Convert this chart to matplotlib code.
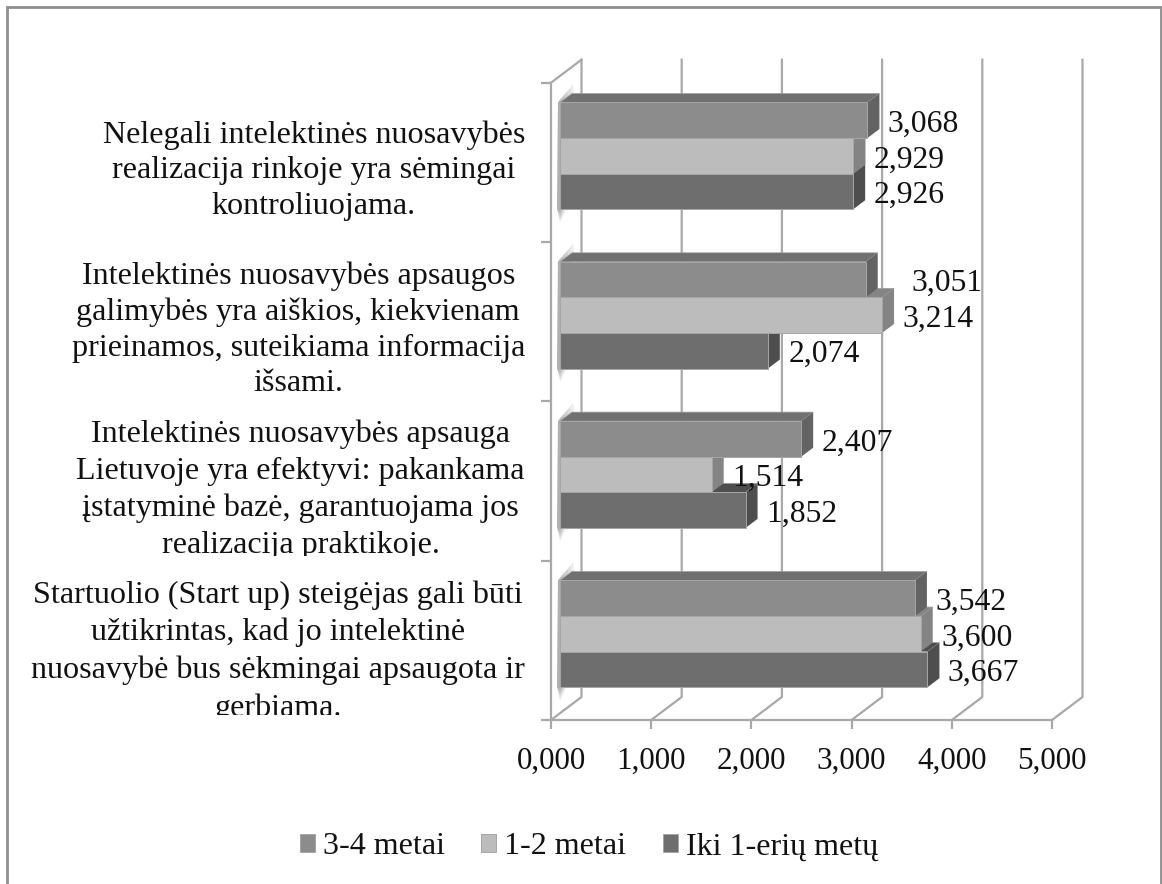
import matplotlib
matplotlib.use("Agg")
import matplotlib.pyplot as plt
from matplotlib.patches import Polygon, Rectangle
from matplotlib.transforms import Affine2D, Bbox

# ---- data (bottom to top on the axis) ----
categories = [
    "Startuolio (Start up) steigėjas gali būti\nužtikrintas, kad jo intelektinė\nnuosavybė bus sėkmingai apsaugota ir\ngerbiama.",
    "Intelektinės nuosavybės apsauga\nLietuvoje yra efektyvi: pakankama\nįstatyminė bazė, garantuojama jos\nrealizacija praktikoje.",
    "Intelektinės nuosavybės apsaugos\ngalimybės yra aiškios, kiekvienam\nprieinamos, suteikiama informacija\nišsami.",
    "Nelegali intelektinės nuosavybės\nrealizacija rinkoje yra sėmingai\nkontroliuojama.",
]
iki_1 = [3.667, 1.852, 2.074, 2.926]
metai_1_2 = [3.600, 1.514, 3.214, 2.929]
metai_3_4 = [3.542, 2.407, 3.051, 3.068]
series_names = ["Iki 1-erių metų", "1-2 metai", "3-4 metai"]
x_ticks = [0, 1, 2, 3, 4, 5]

W, H = 1162, 884
plt.rcParams["font.family"] = ["Liberation Serif", "DejaVu Serif"]
FS = 23.1
FS_VAL = 22.8
FS_TICK = 22.4
GRID = "#a8a8a8"
fig = plt.figure(figsize=(W / 100, H / 100), dpi=100, facecolor="white")

# plot frame of the picture
fig.add_artist(Rectangle((7 / W, -0.02), (1161 - 7) / W, (884 - 7) / H + 0.02,
                         transform=fig.transFigure, fill=False, ec="#8e8e8e", lw=2.0))

L, R, T, B = 551, 1052, 82.7, 720
ax = fig.add_axes([L / W, 1 - B / H, (R - L) / W, (B - T) / H])
ax.set_xlim(0, 5)
ax.set_ylim(0, 4)
sx, sy = (R - L) / 5, (B - T) / 4
ax.patch.set_visible(False)
for s in ("top", "right"):
    ax.spines[s].set_visible(False)
for s in ("left", "bottom"):
    ax.spines[s].set_color(GRID)
    ax.spines[s].set_linewidth(1.6)

ax.set_xticks(x_ticks)
ax.set_xticklabels([f"{v:.3f}".replace(".", ",") for v in x_ticks], fontsize=FS_TICK, color="#111111")
ax.set_yticks(range(5))
ax.set_yticklabels([])
ax.tick_params(axis="x", length=6.5, width=1.6, color=GRID, pad=13)
ax.tick_params(axis="y", length=7, width=1.6, color=GRID)

# walls
wdx, wdy = 30.5 / sx, 23 / sy
for k in x_ticks:
    ax.plot([k, k + wdx, k + wdx], [0, wdy, 4 + wdy], color=GRID, lw=1.6, clip_on=False, zorder=1)
ax.plot([0, wdx], [4, 4 + wdy], color=GRID, lw=1.6, clip_on=False, zorder=1)

# bars
shift = Affine2D().translate(9, 6.5)
plane = ax.transData + shift
ddx, ddy = 12 / sx, 9 / sy
h = 35.6 / sy
series = [iki_1, metai_1_2, metai_3_4]
front = ["#6e6e6e", "#bcbcbc", "#8c8c8c"]
side = ["#4e4e4e", "#848484", "#636363"]
top = ["#4e4e4e", "#848484", "#707070"]
handles = []

# soft shading on the side wall around every group
shade_steps = [(0.15, 0.115), (0.12, 0.09), (0.09, 0.07), (0.06, 0.05), (0.035, 0.03), (0.015, 0.012)]
for c in range(4):
    ylo, yhi = c + 0.5 - 1.5 * h, c + 0.5 + 1.5 * h
    for gx, gy in shade_steps:
        ax.add_patch(Polygon([(-0.02, yhi), (gx - 0.02, yhi + gy), (gx, yhi + gy * 0.2), (ddx, yhi), (0, ylo),
                              (gx * 0.4, ylo), (0.0, ylo - gy * 0.75), (-0.03, ylo)],
                             closed=True, fc="#777777", ec="none", alpha=0.13, transform=plane, zorder=2, clip_on=False))

for i, (vals, f, sd, tp) in enumerate(zip(series, front, side, top)):
    z = 3 + i
    ys = [c + 0.5 + (i - 1) * h for c in range(4)]
    for y, v in zip(ys, vals):
        y0, y1 = y - h / 2, y + h / 2
        ax.add_patch(Polygon([(0, y1), (ddx, y1 + ddy), (v + ddx, y1 + ddy), (v, y1)], closed=True,
                             fc=tp, ec="#a0a0a0", lw=0.5, transform=plane, zorder=z, clip_on=False))
        ax.add_patch(Polygon([(v, y0), (v + ddx, y0 + ddy), (v + ddx, y1 + ddy), (v, y1)], closed=True,
                             fc=sd, ec="none", transform=plane, zorder=z, clip_on=False))
    bars = ax.barh(ys, vals, height=h, color=f, edgecolor="#a6a6a6", linewidth=0.7,
                   transform=plane, zorder=z + 0.1, label=series_names[i], clip_on=False)
    handles.append(bars[0])

# value labels
extra_dx = {(2, 2): 25}
for i, vals in enumerate(series):
    for c, v in enumerate(vals):
        y = c + 0.5 + (i - 1) * h
        dx = 20.5 + extra_dx.get((c, i), 0)
        tr = plane + Affine2D().translate(dx, -4)
        ax.text(v, y, f"{v:.3f}".replace(".", ","), transform=tr, fontsize=FS_VAL, ha="left",
                va="center", color="#111111", zorder=10, clip_on=False)

# category labels, clipped where the reference cuts them off
offs = [-11, -9, -8, -8]
spacing = [1.365, 1.353, 1.294, 1.295]
clip_bottom = [715, 556, None, None]
for c, lab in enumerate(categories):
    tr = ax.transData + Affine2D().translate(-26, offs[c])
    t = ax.text(0, c + 0.5, lab, transform=tr, fontsize=FS, ha="right", va="center", ma="center",
                linespacing=spacing[c], color="#111111", zorder=10)
    if clip_bottom[c] is not None:
        t.set_clip_on(True)
        t.set_clip_box(Bbox.from_extents(0, H - clip_bottom[c], W, H))

# legend
fig.legend(handles[::-1], series_names[::-1], loc="center", bbox_to_anchor=(589 / W, 1 - 847 / H),
           ncol=3, frameon=False, fontsize=FS, handlelength=0.46, handleheight=0.46,
           handletextpad=0.25, columnspacing=1.15, labelcolor="#111111")

fig.savefig("out.png", dpi=100)
